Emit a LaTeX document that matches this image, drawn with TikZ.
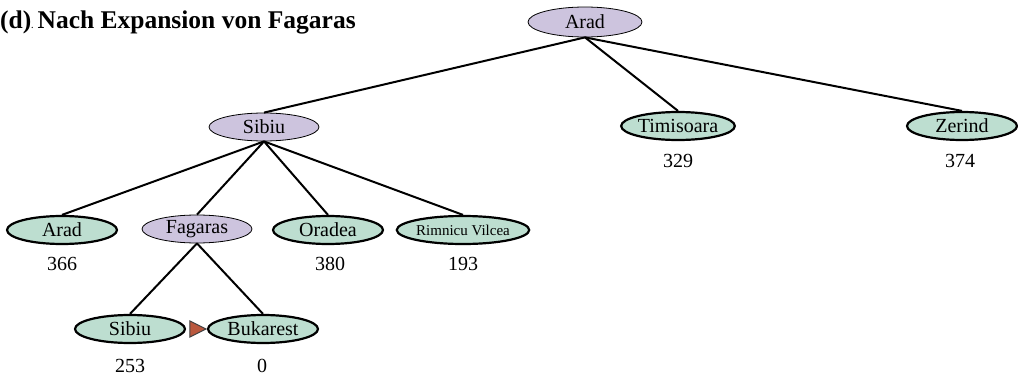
\documentclass[tikz,border=0pt]{standalone}
\usepackage{fontspec}
\setmainfont{Liberation Serif}
\usetikzlibrary{shapes.geometric}
\definecolor{lilac}{RGB}{205,196,222}
\definecolor{mint}{RGB}{189,222,208}
\definecolor{goalred}{RGB}{186,88,62}
\tikzset{
  city/.style={ellipse, minimum width=110pt, minimum height=28pt, inner sep=0pt,
    font=\fontsize{20}{20}\selectfont},
  expanded/.style={city, draw=black, line width=0.8pt, fill=lilac},
  leaf/.style={city, draw=black, line width=2.2pt, fill=mint},
  cost/.style={font=\fontsize{20}{20}\selectfont, inner sep=0pt},
  edge/.style={draw=black, line width=2pt},
}
\begin{document}
\begin{tikzpicture}[x=1pt, y=-1pt]
\useasboundingbox (0,0) rectangle (1018,375);

% title
\node[anchor=west, inner sep=0pt, font=\fontsize{25.5}{25.5}\selectfont\bfseries] (title) at (0,22)
  {(d){\fontsize{8}{8}\selectfont.}\,Nach Expansion von Fagaras};

% root
\node[expanded, minimum width=114pt, minimum height=30pt] (arad0) at (585,22) {Arad};

% level 1
\node[expanded] (sibiu1) at (264,127) {Sibiu};
\node[leaf] (timisoara) at (678,126) {Timisoara};
\node[leaf] (zerind) at (962,126) {Zerind};
\node[cost] (c329) at (678,161) {329};
\node[cost] (c374) at (960,161) {374};

% level 2
\node[expanded] (fagaras) at (197,229) {Fagaras};
\node[leaf] (arad2) at (62,230) {Arad};
\node[leaf] (oradea) at (328,230) {Oradea};
\node[leaf, font=\fontsize{15}{15}\selectfont] (rimnicu) at (463,230) {Rimnicu Vilcea};
\node[cost] (c366) at (62,264) {366};
\node[cost] (c380) at (330,264) {380};
\node[cost] (c193) at (463,264) {193};

% level 3
\node[leaf] (sibiu3) at (130,329) {Sibiu};
\node[leaf] (bukarest) at (263,329) {Bukarest};
\node[cost] (c253) at (130,366) {253};
\node[cost] (c0) at (262,366) {0};

% goal marker in front of Bukarest
\coordinate (goaltip) at ([xshift=-1pt]bukarest.west);
\draw[draw=black!75, line width=1pt, fill=goalred, line join=miter]
  (goaltip) -- ++(-16,-8) -- ++(0,16) -- cycle;

% tree edges
\draw[edge] (arad0.south) -- (sibiu1.north);
\draw[edge] (arad0.south) -- (timisoara.north);
\draw[edge] (arad0.south) -- (zerind.north);
\draw[edge] (sibiu1.south) -- (arad2.north);
\draw[edge] (sibiu1.south) -- (fagaras.north);
\draw[edge] (sibiu1.south) -- (oradea.north);
\draw[edge] (sibiu1.south) -- (rimnicu.north);
\draw[edge] (fagaras.south) -- (sibiu3.north);
\draw[edge] (fagaras.south) -- (bukarest.north);
\end{tikzpicture}
\end{document}
